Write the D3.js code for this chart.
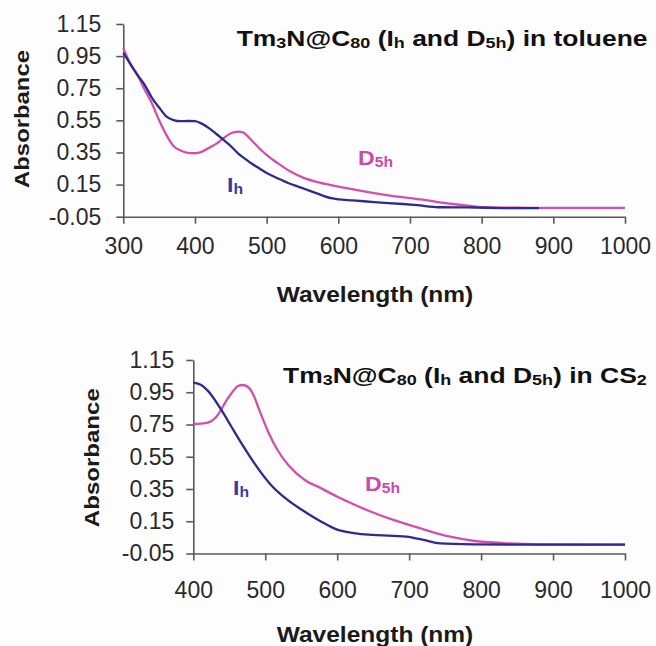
<!DOCTYPE html>
<html>
<head>
<meta charset="utf-8">
<script src="https://cdn.jsdelivr.net/npm/d3@7"></script>
<style>
body { margin: 0; background: #fdfdfd; }
svg { display: block; }
text { font-family: Arial, "Liberation Sans", sans-serif; }
</style>
</head>
<body>
<div id="chart"></div>
<script>
// svg size
var width = 656, height = 646;

// data - toluene (top panel)
var tol_ih_wl  = [300, 310, 320, 330, 340, 350, 360, 370, 380, 390, 400, 410, 420, 430, 440, 450, 460, 470, 480, 490, 500, 510, 520, 530, 540, 550, 570, 590, 600, 620, 650, 690, 710, 740, 780, 830, 880];
var tol_ih_abs = [0.97, 0.90, 0.832, 0.77, 0.69, 0.63, 0.575, 0.552, 0.545, 0.546, 0.545, 0.528, 0.50, 0.465, 0.428, 0.39, 0.345, 0.31, 0.278, 0.25, 0.222, 0.2, 0.18, 0.16, 0.143, 0.128, 0.095, 0.065, 0.058, 0.052, 0.041, 0.029, 0.022, 0.009, 0.008, 0.004, 0.003];

var tol_d5h_wl  = [300, 310, 320, 330, 340, 350, 360, 370, 380, 390, 400, 410, 420, 430, 440, 450, 460, 467, 475, 483, 490, 500, 510, 516, 532, 550, 574, 600, 621, 667, 714, 760, 784, 800, 850, 900, 1000];
var tol_d5h_abs = [1.0, 0.90, 0.83, 0.739, 0.655, 0.55, 0.46, 0.39, 0.362, 0.348, 0.345, 0.355, 0.38, 0.405, 0.44, 0.47, 0.48, 0.475, 0.445, 0.407, 0.375, 0.335, 0.30, 0.282, 0.235, 0.195, 0.162, 0.138, 0.12, 0.085, 0.058, 0.029, 0.017, 0.01, 0.006, 0.005, 0.005];

// data - CS2 (bottom panel)
var cs2_ih_wl  = [400, 411, 420, 425, 439, 453, 467, 485, 508, 531, 555, 578, 601, 625, 650, 696, 720, 743, 789, 850, 1000];
var cs2_ih_abs = [1.01, 0.995, 0.96, 0.933, 0.84, 0.736, 0.633, 0.509, 0.375, 0.282, 0.209, 0.147, 0.096, 0.075, 0.065, 0.054, 0.034, 0.013, 0.007, 0.005, 0.005];

var cs2_d5h_wl  = [400, 410, 420, 428, 434, 441, 448, 455, 462, 469, 478, 484, 490, 497, 504, 517, 532, 555, 578, 601, 615, 641, 678, 720, 757, 789, 835, 882, 1000];
var cs2_d5h_abs = [0.753, 0.755, 0.761, 0.78, 0.809, 0.86, 0.912, 0.955, 0.989, 0.995, 0.974, 0.93, 0.86, 0.78, 0.705, 0.592, 0.499, 0.406, 0.354, 0.30, 0.271, 0.22, 0.158, 0.10, 0.054, 0.029, 0.013, 0.007, 0.005];

// tick labels
var yTicks = [-0.05, 0.15, 0.35, 0.55, 0.75, 0.95, 1.15];
var xTicksTop = [300, 400, 500, 600, 700, 800, 900, 1000];
var xTicksBottom = [400, 500, 600, 700, 800, 900, 1000];

// colors
var blue = "#2d2b8c", pink = "#d24fae";
var blueText = "#3b3a9c", pinkText = "#c94bab";

function zip(wl, ab){
    return wl.map(function(w, i){ return {w: w, a: ab[i]}; });
}

// panel layout
var panels = [
    {
        x0: 123.3, x1: 625, y0: 216.7, y1: 24,
        domain: [300, 1000], xTicks: xTicksTop,
        xPad: 14, yPad: 15,
        absX: 21, absY: 119, absW: 138,
        wlY: 301.7,
        title: [["Tm", 0], ["3", 1], ["N@C", 0], ["80", 1], [" (I", 0], ["h", 1], [" and D", 0], ["5h", 1], [") in toluene", 0]],
        titleX: 236.7, titleY: 46, titleW: 411,
        ih: zip(tol_ih_wl, tol_ih_abs), d5h: zip(tol_d5h_wl, tol_d5h_abs),
        ihLab: [227, 192], d5hLab: [358, 165]
    },
    {
        x0: 193.3, x1: 625, y0: 553.5, y1: 360,
        domain: [400, 1000], xTicks: xTicksBottom,
        xPad: 21, yPad: 12,
        absX: 91, absY: 457.7, absW: 139,
        wlY: 641.7,
        title: [["Tm", 0], ["3", 1], ["N@C", 0], ["80", 1], [" (I", 0], ["h", 1], [" and D", 0], ["5h", 1], [") in CS", 0], ["2", 1]],
        titleX: 283, titleY: 383, titleW: 364,
        ih: zip(cs2_ih_wl, cs2_ih_abs), d5h: zip(cs2_d5h_wl, cs2_d5h_abs),
        ihLab: [233, 495], d5hLab: [365, 491]
    }
];

var svg = d3.select("#chart")
            .append("svg")
            .attr("width", width)
            .attr("height", height);

svg.append("rect")
    .attr("width", width)
    .attr("height", height)
    .attr("fill", "#fdfdfd");

// horizontal stretch factor to reach a target width
function fitText(text, target){
    var w = text.node().getBBox().width;
    return w > 0 ? target / w : 1;
}

// bold text with subscript parts
function richText(g, parts, size){
    var t = g.append("text").attr("font-size", size).attr("font-weight", "bold");
    var prevSub = false;
    parts.forEach(function(p){
        var sub = p[1] == 1;
        var ts = t.append("tspan")
                    .attr("dy", sub ? (prevSub ? 0 : 2) : (prevSub ? -2 : 0))
                    .text(p[0]);
        if (sub) ts.attr("font-size", size * 0.68);
        prevSub = sub;
    });
    return t;
}

panels.forEach(function(p){

    var x = d3.scaleLinear().domain(p.domain).range([p.x0, p.x1]);
    var y = d3.scaleLinear().domain([-0.05, 1.15]).range([p.y0, p.y1]);

    // axes
    var gx = svg.append("g")
                .attr("transform", "translate(0," + p.y0 + ")")
                .call(d3.axisBottom(x)
                        .tickValues(p.xTicks)
                        .tickFormat(d3.format("d"))
                        .tickSize(7)
                        .tickSizeOuter(0)
                        .tickPadding(p.xPad));

    var gy = svg.append("g")
                .attr("transform", "translate(" + p.x0 + ",0)")
                .call(d3.axisLeft(y)
                        .tickValues(yTicks)
                        .tickFormat(function(d){ return d.toFixed(2); })
                        .tickSize(7)
                        .tickSizeOuter(0)
                        .tickPadding(p.yPad));

    [gx, gy].forEach(function(g){
        g.select(".domain").attr("stroke", "#5a5a5a").attr("stroke-width", 1.6);
        g.selectAll(".tick line").attr("stroke", "#5a5a5a").attr("stroke-width", 1.6);
        g.selectAll(".tick text")
            .attr("font-size", 23)
            .attr("font-family", "Arial, 'Liberation Sans', sans-serif")
            .attr("fill", "#2a2a2a");
    });

    // lines
    var line = d3.line()
                .x(function(d){ return x(d.w); })
                .y(function(d){ return y(d.a); })
                .curve(d3.curveMonotoneX);

    svg.append("path")
        .datum(p.d5h)
        .attr("d", line)
        .attr("fill", "none")
        .attr("stroke", pink)
        .attr("stroke-width", 2.3);

    svg.append("path")
        .datum(p.ih)
        .attr("d", line)
        .attr("fill", "none")
        .attr("stroke", blue)
        .attr("stroke-width", 2.3);

    // y axis title
    var ga = svg.append("g");
    var ta = ga.append("text")
                .attr("text-anchor", "middle")
                .attr("font-size", 21)
                .attr("font-weight", "bold")
                .attr("fill", "#1a1a1a")
                .text("Absorbance");
    var sa = fitText(ta, p.absW);
    ga.attr("transform", "translate(" + (p.absX + 7.5) + "," + p.absY + ") rotate(-90) scale(" + sa + ",1)");

    // x axis title
    var gw = svg.append("g");
    var tw = gw.append("text")
                .attr("text-anchor", "middle")
                .attr("font-size", 21.5)
                .attr("font-weight", "bold")
                .attr("fill", "#1a1a1a")
                .text("Wavelength (nm)");
    var sw = fitText(tw, 196.7);
    gw.attr("transform", "translate(375," + p.wlY + ") scale(" + sw + ",1)");

    // panel title
    var gt = svg.append("g");
    var tt = richText(gt, p.title, 22).attr("fill", "#111");
    var st = fitText(tt, p.titleW);
    gt.attr("transform", "translate(" + p.titleX + "," + p.titleY + ") scale(" + st + ",1)");

    // series labels
    var gi = svg.append("g").attr("transform", "translate(" + p.ihLab[0] + "," + p.ihLab[1] + ") scale(1.1,1)");
    richText(gi, [["I", 0], ["h", 1]], 21).attr("fill", blueText);

    var gd = svg.append("g").attr("transform", "translate(" + p.d5hLab[0] + "," + p.d5hLab[1] + ") scale(1.1,1)");
    richText(gd, [["D", 0], ["5h", 1]], 21).attr("fill", pinkText);
});
</script>
</body>
</html>
